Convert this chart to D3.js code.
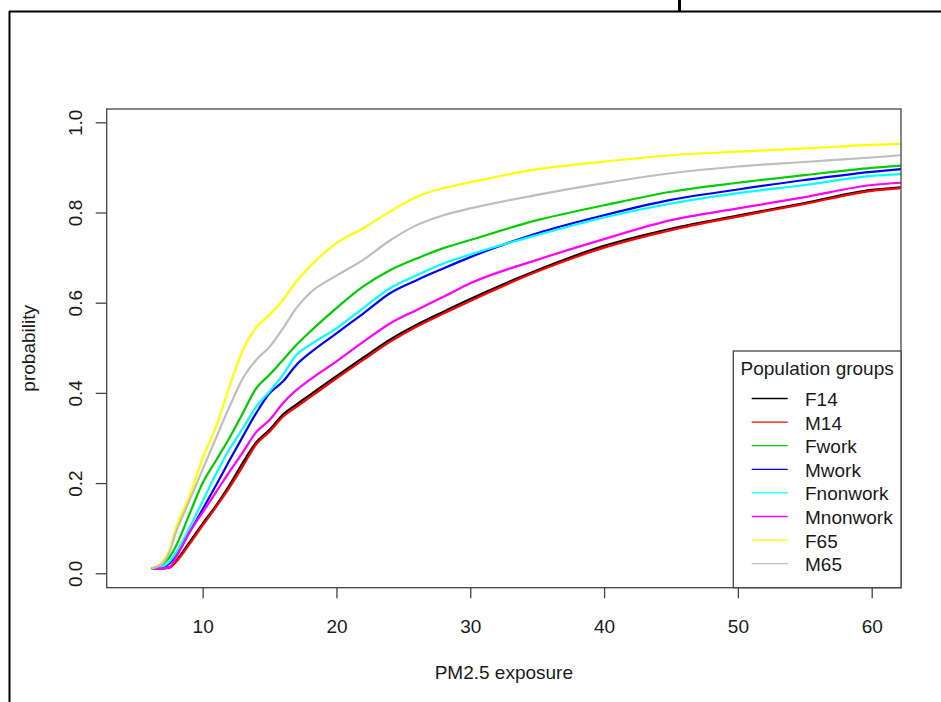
<!DOCTYPE html>
<html>
<head>
<meta charset="utf-8">
<title>PM2.5 exposure</title>
<script src="https://d3js.org/d3.v7.min.js"></script>
<style>
  body { margin: 0; background: #fff; }
  svg text { font-family: "Liberation Sans", Arial, sans-serif; fill: #1a1a1a; }
</style>
</head>
<body>
<svg id="chart" width="941" height="702"></svg>
<script>

// exposure values (x) shared by every group
var exposure = [6.2, 7, 7.5, 8, 9, 10, 11, 12, 13, 14, 15, 16, 17, 18, 20, 22, 24, 26, 28, 30, 35, 40, 45, 50, 55, 60, 62.2];

var groups = ["F14", "M14", "Fwork", "Mwork", "Fnonwork", "Mnonwork", "F65", "M65"];
var colors = ["#000000", "#FF0000", "#00CD00", "#0000FF", "#00FFFF", "#FF00FF", "#FFFF00", "#BEBEBE"];

var F14      = [0.011, 0.011, 0.013, 0.027, 0.068, 0.110, 0.150, 0.195, 0.245, 0.290, 0.318, 0.352, 0.374, 0.395, 0.437, 0.478, 0.518, 0.551, 0.580, 0.608, 0.672, 0.726, 0.764, 0.793, 0.821, 0.850, 0.856];
var M14      = [0.011, 0.011, 0.012, 0.025, 0.064, 0.106, 0.147, 0.190, 0.237, 0.286, 0.314, 0.347, 0.369, 0.390, 0.432, 0.473, 0.513, 0.547, 0.576, 0.604, 0.669, 0.722, 0.761, 0.791, 0.819, 0.848, 0.854];
var Fwork    = [0.011, 0.020, 0.035, 0.060, 0.130, 0.200, 0.250, 0.300, 0.355, 0.410, 0.440, 0.473, 0.506, 0.535, 0.588, 0.636, 0.672, 0.698, 0.721, 0.739, 0.783, 0.816, 0.846, 0.866, 0.883, 0.899, 0.904];
var Mwork    = [0.011, 0.013, 0.022, 0.040, 0.090, 0.142, 0.195, 0.250, 0.303, 0.355, 0.399, 0.425, 0.462, 0.488, 0.532, 0.576, 0.621, 0.650, 0.676, 0.701, 0.754, 0.794, 0.828, 0.851, 0.872, 0.890, 0.896];
var Fnonwork = [0.011, 0.015, 0.025, 0.045, 0.100, 0.160, 0.220, 0.275, 0.321, 0.369, 0.403, 0.440, 0.484, 0.506, 0.543, 0.588, 0.632, 0.661, 0.687, 0.707, 0.750, 0.789, 0.820, 0.843, 0.861, 0.881, 0.885];
var Mnonwork = [0.011, 0.011, 0.013, 0.035, 0.090, 0.135, 0.180, 0.225, 0.268, 0.313, 0.340, 0.377, 0.406, 0.429, 0.470, 0.513, 0.554, 0.584, 0.613, 0.643, 0.695, 0.741, 0.783, 0.809, 0.834, 0.861, 0.866];
var F65      = [0.011, 0.025, 0.050, 0.100, 0.170, 0.255, 0.325, 0.414, 0.495, 0.545, 0.573, 0.606, 0.647, 0.680, 0.732, 0.765, 0.802, 0.835, 0.854, 0.867, 0.896, 0.913, 0.927, 0.935, 0.942, 0.950, 0.952];
var M65      = [0.011, 0.022, 0.045, 0.090, 0.160, 0.230, 0.300, 0.369, 0.432, 0.473, 0.502, 0.543, 0.588, 0.621, 0.660, 0.695, 0.738, 0.772, 0.794, 0.809, 0.839, 0.865, 0.887, 0.902, 0.912, 0.922, 0.927];

var series = [F14, M14, Fwork, Mwork, Fnonwork, Mnonwork, F65, M65];

var xTicks = [10, 20, 30, 40, 50, 60];
var yTicks = [0, 0.2, 0.4, 0.6, 0.8, 1.0];

var svg = d3.select("#chart");

var pLeft = 106.7, pRight = 901, pTop = 109, pBottom = 587.7;
var fs = 19;

var x = d3.scaleLinear().domain([2.83, 62.19]).range([pLeft, pRight]);
var y = d3.scaleLinear().domain([-0.032, 1.0295]).range([pBottom, pTop]);

// outer frame pieces from the surrounding page
svg.append("line").attr("x1", 9).attr("x2", 941).attr("y1", 11.5).attr("y2", 11.5)
  .attr("stroke", "#000").attr("stroke-width", 2);
svg.append("line").attr("x1", 9.5).attr("x2", 9.5).attr("y1", 11).attr("y2", 702)
  .attr("stroke", "#000").attr("stroke-width", 2);
svg.append("line").attr("x1", 679.5).attr("x2", 679.5).attr("y1", 0).attr("y2", 11)
  .attr("stroke", "#000").attr("stroke-width", 3);

svg.append("clipPath").attr("id", "clip")
  .append("rect").attr("x", pLeft).attr("y", pTop).attr("width", pRight - pLeft).attr("height", pBottom - pTop);

var line = d3.line()
  .x(function(d) { return x(d[0]); })
  .y(function(d) { return y(d[1]); })
  .curve(d3.curveMonotoneX);

svg.append("g").attr("clip-path", "url(#clip)")
  .selectAll("path")
  .data(series)
  .enter().append("path")
    .attr("d", function(s) { return line(exposure.map(function(v, i) { return [v, s[i]]; })); })
    .attr("fill", "none")
    .attr("stroke", function(s, i) { return colors[i]; })
    .attr("stroke-width", 2.2);

// plot box
svg.append("rect")
  .attr("x", pLeft).attr("y", pTop).attr("width", pRight - pLeft).attr("height", pBottom - pTop)
  .attr("fill", "none").attr("stroke", "#444").attr("stroke-width", 1.3);

var xAxis = svg.append("g")
  .attr("transform", "translate(0," + pBottom + ")")
  .call(d3.axisBottom(x).tickValues(xTicks).tickSize(10.6).tickFormat(d3.format("d")));
xAxis.select(".domain").remove();
xAxis.selectAll("line").attr("stroke", "#444").attr("stroke-width", 1.3);
xAxis.selectAll("text")
  .attr("y", 45.6).attr("dy", null)
  .attr("font-size", fs).style("font-family", "Liberation Sans, Arial, sans-serif").attr("fill", "#1a1a1a");

var yAxis = svg.append("g")
  .attr("transform", "translate(" + pLeft + ",0)")
  .call(d3.axisLeft(y).tickValues(yTicks).tickSize(11).tickFormat(d3.format(".1f")));
yAxis.select(".domain").remove();
yAxis.selectAll("line").attr("stroke", "#444").attr("stroke-width", 1.3);
yAxis.selectAll("text")
  .attr("x", null).attr("dy", null)
  .attr("text-anchor", "middle")
  .attr("transform", "translate(" + (81.5 - pLeft) + ",0) rotate(-90)")
  .attr("font-size", fs).style("font-family", "Liberation Sans, Arial, sans-serif").attr("fill", "#1a1a1a");

svg.append("text")
  .attr("transform", "translate(35," + ((pTop + pBottom) / 2) + ") rotate(-90)")
  .attr("text-anchor", "middle").attr("font-size", fs)
  .text("probability");

svg.append("text")
  .attr("x", (pLeft + pRight) / 2).attr("y", 679)
  .attr("text-anchor", "middle").attr("font-size", fs)
  .text("PM2.5 exposure");

// legend
var legend = svg.append("g");
legend.append("rect")
  .attr("x", 733.3).attr("y", 351).attr("width", pRight - 733.3).attr("height", pBottom - 351)
  .attr("fill", "#fff").attr("stroke", "#444").attr("stroke-width", 1.3);
legend.append("text")
  .attr("x", (733.3 + pRight) / 2).attr("y", 375)
  .attr("text-anchor", "middle").attr("font-size", fs)
  .text("Population groups");

var item = legend.selectAll("g.item")
  .data(groups)
  .enter().append("g")
    .attr("class", "item")
    .attr("transform", function(d, i) { return "translate(0," + (406 + i * 23.6) + ")"; });
item.append("line")
  .attr("x1", 751.7).attr("x2", 787.7).attr("y1", -7.5).attr("y2", -7.5)
  .attr("stroke", function(d, i) { return colors[i]; }).attr("stroke-width", 1.3);
item.append("text")
  .attr("x", 805).attr("y", 0).attr("font-size", fs)
  .text(function(d) { return d; });

</script>
</body>
</html>
